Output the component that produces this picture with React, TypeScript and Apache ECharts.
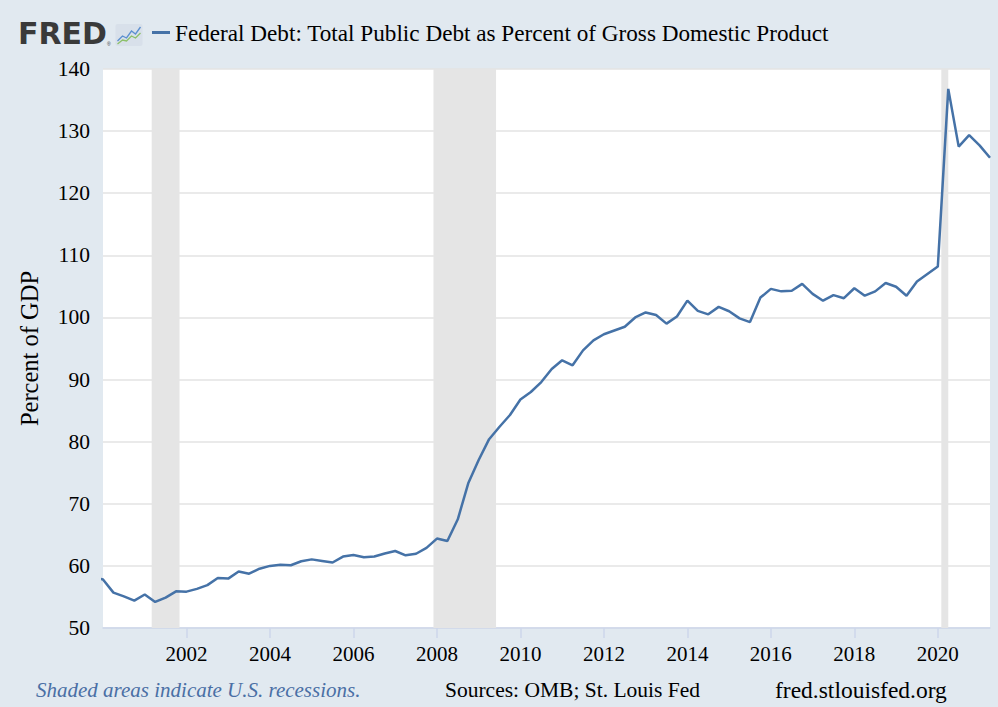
import React, { useEffect, useRef } from "react";
import * as echarts from "echarts";

// Quarterly observations, starting 1999-Q4 (x in decimal years: year + (quarter-1)/4)
const startYear = 1999;
const startQuarter = 4;
const debtPct: number[] = [
  58.3,
  57.8, 55.7, 55.1, 54.4,
  55.4, 54.2, 54.9, 55.9,
  55.85, 56.3, 56.9, 58.05,
  57.95, 59.1, 58.75, 59.55,
  60.0, 60.2, 60.1, 60.75,
  61.05, 60.8, 60.55, 61.5,
  61.75, 61.4, 61.5, 62.0,
  62.4, 61.7, 61.95, 62.9,
  64.4, 64.0, 67.5, 73.3,
  77.05, 80.4, 82.4, 84.3,
  86.8, 88.0, 89.6, 91.7,
  93.1, 92.3, 94.7, 96.3,
  97.3, 97.9, 98.5, 100.0,
  100.8, 100.4, 99.0, 100.15,
  102.7, 101.05, 100.5, 101.7,
  101.0, 99.85, 99.25, 103.2,
  104.6, 104.2, 104.3, 105.4,
  103.8, 102.7, 103.6, 103.1,
  104.7, 103.5, 104.2, 105.55,
  104.95, 103.5, 105.8, 107.0,
  108.2, 136.8, 127.5, 129.35,
  127.7, 125.7,
];

// Recession spans [start, end] as [year, month]
const recessions: [[number, number], [number, number]][] = [
  [[2001, 3], [2001, 11]],
  [[2007, 12], [2009, 6]],
  [[2020, 2], [2020, 4]],
];

const yearTicks = [2002, 2004, 2006, 2008, 2010, 2012, 2014, 2016, 2018, 2020];
const xMin = 2000;
const xMax = 2021.25;
const xStep = 2;
const yMin = 50;
const yMax = 140;
const yStep = 10;

const seriesName = "Federal Debt: Total Public Debt as Percent of Gross Domestic Product";

function quarterTimes(): number[] {
  const out: number[] = [];
  let y = startYear;
  let q = startQuarter;
  for (let i = 0; i < debtPct.length; i++) {
    out.push(y + (q - 1) / 4);
    q++;
    if (q > 4) {
      q = 1;
      y++;
    }
  }
  return out;
}

const ym = ([y, m]: [number, number]) => y + (m - 1) / 12;

const SERIF = "'Liberation Serif', 'DejaVu Serif', serif";
const BG = "#e1e9f0";

export default function App() {
  const ref = useRef<HTMLDivElement>(null);
  useEffect(() => {
    document.body.style.margin = "0";
    document.body.style.background = BG;
    if (!ref.current) return;
    const chart = echarts.init(ref.current, undefined, { renderer: "svg" });
    const xs = quarterTimes();
    chart.setOption({
      animation: false,
      backgroundColor: BG,
      textStyle: { fontFamily: SERIF },
      grid: { left: 103, right: 8, top: 69, bottom: 79, show: true, backgroundColor: "#ffffff", borderWidth: 0 },
      legend: {
        left: 152,
        top: 21,
        padding: 0,
        itemWidth: 18,
        itemHeight: 3,
        itemGap: 4,
        data: [{ name: seriesName, icon: "rect" }],
        textStyle: { fontFamily: SERIF, fontSize: 23.2, color: "#000" },
      },
      xAxis: {
        type: "value",
        min: xMin,
        max: xMax,
        interval: xStep,
        axisLine: { show: true, lineStyle: { color: "#ccd6eb", width: 1.5 } },
        axisTick: { show: true, length: 10, lineStyle: { color: "#ccd6eb", width: 1.5 }, customValues: yearTicks },
        axisLabel: {
          customValues: yearTicks,
          formatter: (v: number) => String(Math.round(v)),
          fontFamily: SERIF,
          fontSize: 21,
          color: "#000",
          margin: 15,
        },
        splitLine: { show: false },
      },
      yAxis: {
        type: "value",
        min: yMin,
        max: yMax,
        interval: yStep,
        name: "Percent of GDP",
        nameLocation: "middle",
        nameGap: 61,
        nameTextStyle: { fontFamily: SERIF, fontSize: 24.5, color: "#000" },
        axisLine: { show: false },
        axisTick: { show: false },
        axisLabel: { fontFamily: SERIF, fontSize: 21.5, color: "#000", margin: 13, padding: [5, 0, 0, 0] },
        splitLine: { show: true, lineStyle: { color: "#e3e3e3", width: 1.5 } },
      },
      series: [
        {
          name: seriesName,
          type: "line",
          data: xs.map((x, i) => [x, debtPct[i]]),
          showSymbol: false,
          symbol: "none",
          clip: false,
          lineStyle: { color: "#4572a7", width: 2.5 },
          itemStyle: { color: "#4572a7" },
          markArea: {
            silent: true,
            itemStyle: { color: "#e5e5e5" },
            data: recessions.map(([a, b]) => [{ xAxis: ym(a) }, { xAxis: ym(b) }]),
          },
        },
      ],
      graphic: [
        {
          type: "text",
          left: 18,
          top: 18,
          style: { text: "FRED", fontFamily: "'DejaVu Sans', sans-serif", fontWeight: "bold", fontSize: 30, fill: "#3a3a3a" },
        },
        {
          type: "text",
          left: 107,
          top: 41,
          style: { text: "®", fontFamily: "'Liberation Sans', sans-serif", fontSize: 5, fill: "#3a3a3a" },
        },
        {
          type: "group",
          left: 115,
          top: 24,
          children: [
            { type: "rect", shape: { x: 0, y: 0, width: 27, height: 22, r: 2 }, style: { fill: "#d8e0ea" } },
            { type: "polyline", shape: { points: [[2, 17], [7, 12], [11, 14], [16, 7], [20, 10], [25, 3]] }, style: { stroke: "#5b8fd0", lineWidth: 1.3, fill: "none" } },
            { type: "polyline", shape: { points: [[2, 20], [7, 16], [11, 17], [16, 12], [20, 14], [25, 9]] }, style: { stroke: "#8cc06a", lineWidth: 1.3, fill: "none" } },
          ],
        },
        {
          type: "text",
          left: 36,
          top: 679,
          style: { text: "Shaded areas indicate U.S. recessions.", fontFamily: SERIF, fontStyle: "italic", fontSize: 21, fill: "#4a6fa5" },
        },
        {
          type: "text",
          left: 445,
          top: 679,
          style: { text: "Sources: OMB; St. Louis Fed", fontFamily: SERIF, fontSize: 21.5, fill: "#000" },
        },
        {
          type: "text",
          left: 775,
          top: 678,
          style: { text: "fred.stlouisfed.org", fontFamily: SERIF, fontSize: 23.5, fill: "#000" },
        },
      ],
    });
    return () => chart.dispose();
  }, []);
  return (
    <div
      ref={ref}
      style={{ position: "fixed", left: 0, top: 0, width: 998, height: 707 }}
    />
  );
}
